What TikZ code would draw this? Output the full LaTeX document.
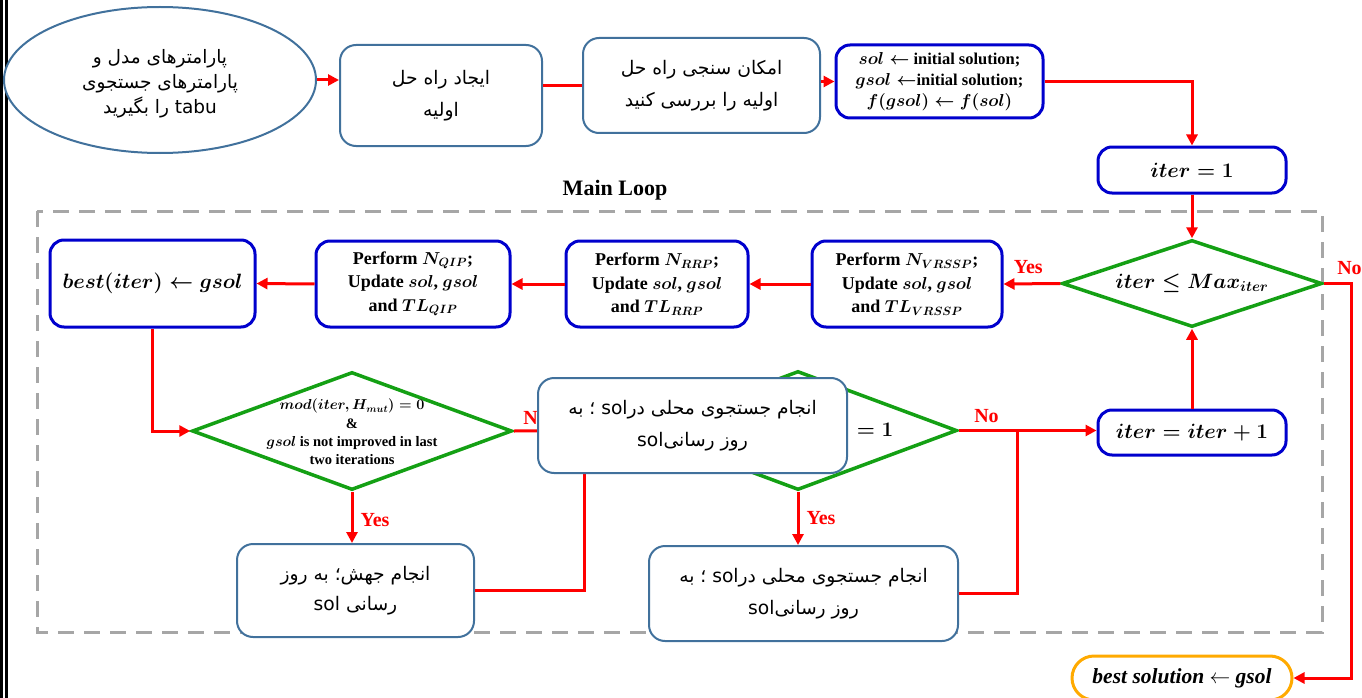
\documentclass[tikz,border=0pt]{standalone}
\usepackage{fontspec}
\usepackage{amsmath,amssymb}
\setmainfont{Liberation Serif}
\newfontfamily\fa[Script=Arabic]{DejaVu Sans}
\TeXXeTstate=1
\usetikzlibrary{arrows.meta,shapes.geometric,shapes.misc,calc}

\definecolor{steel}{RGB}{65,113,156}
\definecolor{procblue}{RGB}{0,0,205}
\definecolor{flowred}{RGB}{255,0,0}
\definecolor{decgreen}{RGB}{20,160,20}
\definecolor{loopgray}{RGB}{166,166,166}
\definecolor{endorange}{RGB}{255,170,0}

% one right-to-left line, and a left-to-right word inside it
\newcommand{\pline}[1]{\beginR #1\endR}
\newcommand{\lat}[1]{\beginL #1\endL{}}

\tikzset{
  conn/.style={flowred, line width=3pt},
  arr/.style={conn, -{Triangle[length=11pt,width=11pt]}},
  fabox/.style={draw=steel, line width=2pt, rounded corners=16pt, fill=white,
    align=center, inner sep=0pt, font=\fa\fontsize{18.7}{32}\selectfont},
  procbox/.style={draw=procblue, line width=3pt, rounded corners=14pt, fill=white,
    align=center, inner sep=0pt, font=\bfseries\boldmath\fontsize{18}{23.5}\selectfont},
  decision/.style={diamond, draw=decgreen, line width=3.5pt, inner sep=0pt, fill=white},
  lbl/.style={text=flowred, font=\bfseries\fontsize{20}{22}\selectfont},
}

\begin{document}
\begin{tikzpicture}[x=1pt,y=-1pt]
\useasboundingbox (0,0) rectangle (1362,698);

% double rule at the left edge
\fill[black] (0,0) rectangle (3.3,698);
\fill[black] (5.2,0) rectangle (7.6,698);

% main loop frame
\draw[loopgray, line width=3pt, dash pattern=on 16pt off 10pt] (37,211) rectangle (1322,632);
\node[font=\bfseries\fontsize{22}{24}\selectfont] (mainloop) at (615,190) {Main Loop};

% start and initialisation
\node[ellipse, draw=steel, line width=2pt, fill=white, minimum width=312pt, minimum height=146pt,
      inner sep=0pt] (start) at (160,80) {};
\node[align=center, font=\fa\fontsize{18.5}{25}\selectfont] (starttext) at (160,84)
  {\pline{پارامترهای مدل و}\\\pline{پارامترهای جستجوی}\\\pline{\lat{tabu} را بگیرید}};
\node[fabox, minimum width=202pt, minimum height=101pt] (init) at (441,95.5)
  {\pline{ایجاد راه حل}\\\pline{اولیه}};
\node[fabox, minimum width=237pt, minimum height=95pt] (feas) at (701.5,85.5)
  {\pline{امکان سنجی راه حل}\\\pline{اولیه را بررسی کنید}};
\node[procbox, minimum width=207pt, minimum height=73pt, font=\bfseries\boldmath\fontsize{16.5}{21}\selectfont] (solinit) at (939.5,81.5)
  {$sol \leftarrow$ initial solution;\\$gsol \leftarrow$initial solution;\\$f(gsol) \leftarrow f(sol)$};
\node[procbox, minimum width=188pt, minimum height=46pt, font=\bfseries\boldmath\fontsize{20}{22}\selectfont] (iterone) at (1192,170)
  {$iter = 1$};

% main loop
\node[decision, minimum width=260pt, minimum height=87pt] (dmax) at (1192,283.5) {};
\node[font=\bfseries\boldmath\fontsize{22}{24}\selectfont] (dmaxtext) at (dmax) {$iter \leq Max_{iter}$};
\node[procbox, minimum width=190pt, minimum height=86pt] (vrssp) at (907,284)
  {Perform $N_{VRSSP}$;\\Update $sol$, $gsol$\\and $TL_{VRSSP}$};
\node[procbox, minimum width=182pt, minimum height=86pt] (rrp) at (657,284)
  {Perform $N_{RRP}$;\\Update $sol$, $gsol$\\and $TL_{RRP}$};
\node[procbox, minimum width=194pt, minimum height=86pt] (qip) at (413,284)
  {Perform $N_{QIP}$;\\Update $sol$, $gsol$\\and $TL_{QIP}$};
\node[procbox, minimum width=205pt, minimum height=87pt, font=\bfseries\boldmath\fontsize{19.5}{23}\selectfont] (best) at (152.5,283.5)
  {$best(iter) \leftarrow gsol$};

\node[decision, minimum width=320pt, minimum height=118pt] (dmut) at (352,431) {};
\node[align=center, font=\bfseries\boldmath\fontsize{14.5}{18.3}\selectfont] (dmuttext) at (352,432)
  {$mod(iter, H_{mut}) = 0$\\\&\\$gsol$ is not improved in last\\two iterations};
\node[decision, minimum width=318pt, minimum height=119pt] (dls) at (798,430.5) {};
\node[font=\bfseries\boldmath\fontsize{20}{22}\selectfont] (dlstext) at (875,430) {$=1$};

\node[fabox, minimum width=237pt, minimum height=93pt, font=\fa\fontsize{18.7}{30}\selectfont] (mut) at (355.5,590.5)
  {\pline{انجام جهش؛ به روز}\\\pline{رسانی \lat{sol}}};
\node[fabox, minimum width=309pt, minimum height=95pt] (ls) at (803.5,593.5)
  {\pline{انجام جستجوی محلی در\lat{sol} ؛ به}\\\pline{روز رسانی\lat{sol}}};
\node[procbox, minimum width=188pt, minimum height=45pt, font=\bfseries\boldmath\fontsize{20}{22}\selectfont] (iterinc) at (1192,432.5)
  {$iter = iter + 1$};

\node[rounded rectangle, draw=endorange, line width=3pt, fill=white, minimum width=220pt, minimum height=44pt,
      inner sep=0pt, font=\bfseries\itshape\fontsize{21.5}{23}\selectfont] (bestsol) at (1182,678)
  {best solution $\leftarrow$ gsol};

\coordinate (jmut) at (584,431);
\coordinate (jls) at (1017,431);

% connectors
\draw[arr] (start.east) -- (start.east -| init.west);
\draw[conn] (feas.west -| init.east) -- (feas.west);
\draw[arr] (solinit.west -| feas.east) -- (solinit.west);
\draw[arr] (solinit.east) -| (iterone.north);
\draw[arr] (iterone.south) -- (dmax.north);
\draw[arr] (dmax.west) -- (vrssp.east);
\node[lbl, anchor=south] at ([xshift=-32pt,yshift=6pt]dmax.west) {Yes};
\draw[arr] (vrssp.west) -- (rrp.east);
\draw[arr] (rrp.west) -- (qip.east);
\draw[arr] (qip.west) -- (best.east);
\draw[arr] (best.south) |- (dmut.west);
\draw[arr] (dmut.south) -- (dmut.south |- mut.north);
\node[lbl, anchor=west] at ([xshift=5pt,yshift=-28pt]dmut.south) {Yes};
\draw[arr] (dmut.east) -- (dls.west);
\node[lbl, anchor=south west] at ([xshift=6pt,yshift=3pt]dmut.east) {No};
\draw[conn] (mut.east) -| (jmut);
\draw[arr] (dls.south) -- (dls.south |- ls.north);
\node[lbl, anchor=west] at ([xshift=5pt,yshift=-26pt]dls.south) {Yes};
\draw[arr] (dls.east) -- (dls.east -| iterinc.west);
\node[lbl, anchor=south west] at ([xshift=12pt,yshift=4pt]dls.east) {No};
\draw[conn] (ls.east) -| (jls);
\draw[arr] (iterinc.north) -- (dmax.south);
\draw[arr] (dmax.east) -- ++(28,0) |- (bestsol.east);
\node[lbl, anchor=south west] at ([xshift=10pt,yshift=5pt]dmax.east) {No};

% note box lying over the local search decision
\node[fabox, minimum width=309pt, minimum height=95pt] (note) at (692.5,425.5)
  {\pline{انجام جستجوی محلی در\lat{sol} ؛ به}\\\pline{روز رسانی\lat{sol}}};
\end{tikzpicture}
\end{document}
